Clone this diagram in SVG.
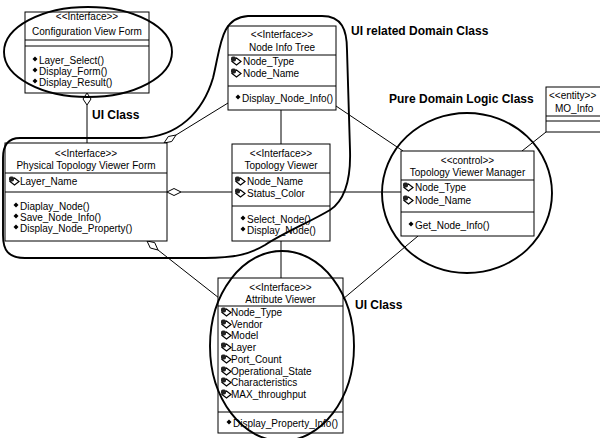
<svg xmlns="http://www.w3.org/2000/svg" width="600" height="438" viewBox="0 0 600 438">
<defs>
<style>
.box{fill:#fff;stroke:#000;stroke-width:1}
.sep{stroke:#000;stroke-width:1}
.t{font-family:"Liberation Sans",Arial,sans-serif;font-size:10px;fill:#000}
.c{text-anchor:middle}
.lbl{font-family:"Liberation Sans",Arial,sans-serif;font-size:12px;font-weight:bold;fill:#000}
.conn{stroke:#000;stroke-width:1;fill:none}
.dia{fill:#fff;stroke:#000;stroke-width:1}
.hand{stroke:#000;stroke-width:1.9;fill:none}
</style>
<symbol id="m" overflow="visible"><polygon points="0,-2.5 2.5,0 0,2.5 -2.5,0" fill="#000"/></symbol>
<symbol id="a" overflow="visible"><path d="M1,-3.5 L5.5,-7 L10,-3.5 L5.5,0 Z" fill="#fff" stroke="#000" stroke-width="1.2"/><rect x="0" y="-8.5" width="5" height="5" rx="1.8" fill="#222"/></symbol>
</defs>
<rect width="600" height="438" fill="#fff"/>

<g id="connectors">
<line class="conn" x1="87" y1="105" x2="87" y2="143"/>
<polygon class="dia" points="87,93 91,99 87,105 83,99"/>
<line class="conn" x1="176" y1="135" x2="228" y2="103"/>
<polygon class="dia" points="164,143 171.7,141.5 176,135 168.3,136.5"/>
<line class="conn" x1="181" y1="192" x2="232" y2="192"/>
<polygon class="dia" points="167,192 174,188.5 181,192 174,195.5"/>
<line class="conn" x1="158" y1="250" x2="219" y2="298"/>
<polygon class="dia" points="147,241 154.7,242.6 158,250 150.3,248"/>
<line class="conn" x1="281" y1="110" x2="281" y2="144"/>
<line class="conn" x1="336" y1="106" x2="403" y2="151"/>
<line class="conn" x1="330" y1="192" x2="401" y2="192"/>
<line class="conn" x1="281" y1="241" x2="281" y2="278"/>
<line class="conn" x1="418" y1="236" x2="343" y2="299"/>
<line class="conn" x1="522" y1="151" x2="546" y2="132"/>
</g>

<g id="config-view-form">
<rect class="box" x="25" y="12" width="124" height="81"/>
<text class="t c" x="87" y="20">&lt;&lt;Interface&gt;&gt;</text>
<text class="t c" x="87" y="35">Configuration View Form</text>
<line class="sep" x1="25" y1="40" x2="149" y2="40"/>
<line class="sep" x1="25" y1="46" x2="149" y2="46"/>
<use href="#m" x="35" y="59"/><text class="t" x="39" y="64">Layer_Select()</text>
<use href="#m" x="35" y="70"/><text class="t" x="39" y="75">Display_Form()</text>
<use href="#m" x="35" y="81"/><text class="t" x="39" y="86">Display_Result()</text>
</g>

<g id="physical-topology-viewer-form">
<rect class="box" x="5" y="143" width="162" height="98"/>
<text class="t c" x="86" y="157">&lt;&lt;Interface&gt;&gt;</text>
<text class="t c" x="86" y="169">Physical Topology Viewer Form</text>
<line class="sep" x1="5" y1="173" x2="167" y2="173"/>
<use href="#a" x="9" y="185"/><text class="t" x="20" y="185">Layer_Name</text>
<line class="sep" x1="5" y1="192" x2="167" y2="192"/>
<use href="#m" x="16" y="205"/><text class="t" x="20" y="210">Diaplay_Node()</text>
<use href="#m" x="16" y="216"/><text class="t" x="20" y="221">Save_Node_Info()</text>
<use href="#m" x="16" y="227"/><text class="t" x="20" y="232">Display_Node_Property()</text>
</g>

<g id="node-info-tree">
<rect class="box" x="228" y="26" width="108" height="84"/>
<text class="t c" x="282" y="38">&lt;&lt;Interface&gt;&gt;</text>
<text class="t c" x="282" y="51">Node Info Tree</text>
<line class="sep" x1="228" y1="55" x2="336" y2="55"/>
<use href="#a" x="231" y="65"/><text class="t" x="243" y="65">Node_Type</text>
<use href="#a" x="231" y="77"/><text class="t" x="243" y="77">Node_Name</text>
<line class="sep" x1="228" y1="86" x2="336" y2="86"/>
<use href="#m" x="238" y="97"/><text class="t" x="242" y="102">Display_Node_Info()</text>
</g>

<g id="topology-viewer">
<rect class="box" x="232" y="144" width="98" height="97"/>
<text class="t c" x="281" y="157">&lt;&lt;Interface&gt;&gt;</text>
<text class="t c" x="281" y="169">Topology Viewer</text>
<line class="sep" x1="232" y1="173" x2="330" y2="173"/>
<use href="#a" x="235" y="185"/><text class="t" x="247" y="185">Node_Name</text>
<use href="#a" x="235" y="197"/><text class="t" x="247" y="197">Status_Color</text>
<line class="sep" x1="232" y1="206" x2="330" y2="206"/>
<use href="#m" x="243" y="218"/><text class="t" x="247" y="223">Select_Node()</text>
<use href="#m" x="243" y="229"/><text class="t" x="247" y="234">Display_Node()</text>
</g>

<g id="topology-viewer-manager">
<rect class="box" x="401" y="151" width="133" height="85"/>
<text class="t c" x="467.5" y="164">&lt;&lt;control&gt;&gt;</text>
<text class="t c" x="467.5" y="176">Topology Viewer Manager</text>
<line class="sep" x1="401" y1="180" x2="534" y2="180"/>
<use href="#a" x="403" y="191"/><text class="t" x="415" y="191">Node_Type</text>
<use href="#a" x="403" y="204"/><text class="t" x="415" y="204">Node_Name</text>
<line class="sep" x1="401" y1="212" x2="534" y2="212"/>
<use href="#m" x="411" y="224"/><text class="t" x="415" y="229">Get_Node_Info()</text>
</g>

<g id="mo-info">
<rect class="box" x="546" y="87" width="60" height="45"/>
<text class="t" x="549" y="99">&lt;&lt;entity&gt;&gt;</text>
<text class="t" x="555" y="112">MO_Info</text>
<line class="sep" x1="546" y1="116" x2="606" y2="116"/>
<line class="sep" x1="546" y1="121" x2="606" y2="121"/>
</g>

<g id="attribute-viewer">
<rect class="box" x="218" y="278" width="125" height="155"/>
<text class="t c" x="280.5" y="291">&lt;&lt;Interface&gt;&gt;</text>
<text class="t c" x="280.5" y="303">Attribute Viewer</text>
<line class="sep" x1="218" y1="306" x2="343" y2="306"/>
<use href="#a" x="221" y="316"/><text class="t" x="231" y="316">Node_Type</text>
<use href="#a" x="221" y="328"/><text class="t" x="231" y="328">Vendor</text>
<use href="#a" x="221" y="339"/><text class="t" x="231" y="339">Model</text>
<use href="#a" x="221" y="351"/><text class="t" x="231" y="351">Layer</text>
<use href="#a" x="221" y="363"/><text class="t" x="231" y="363">Port_Count</text>
<use href="#a" x="221" y="375"/><text class="t" x="231" y="375">Operational_State</text>
<use href="#a" x="221" y="386"/><text class="t" x="231" y="386">Characteristics</text>
<use href="#a" x="221" y="398"/><text class="t" x="231" y="398">MAX_throughput</text>
<line class="sep" x1="218" y1="412" x2="343" y2="412"/>
<use href="#m" x="229" y="422"/><text class="t" x="233" y="427">Display_Property_Info()</text>
</g>

<g id="groupings">
<ellipse class="hand" cx="88" cy="52" rx="84" ry="45"/>
<path class="hand" d="M20,138 L140,138 C178,137 203,112 213,78 C221,46 220,18 248,16 L322,16 C342,16 347,30 347,50 L350,150 C351,180 345,200 330,210 C310,222 285,232 265,245 C250,254 235,258 205,258 L25,258 C8,258 3,250 3,235 L3,158 C3,145 9,138 20,138 Z"/>
<ellipse class="hand" cx="467" cy="193" rx="85" ry="80"/>
<ellipse class="hand" cx="282" cy="346" rx="72" ry="95"/>
</g>

<g id="labels">
<text class="lbl" x="92" y="119">UI Class</text>
<text class="lbl" x="351" y="35">UI related Domain Class</text>
<text class="lbl" x="389" y="103">Pure Domain Logic Class</text>
<text class="lbl" x="355" y="309">UI Class</text>
</g>
</svg>
